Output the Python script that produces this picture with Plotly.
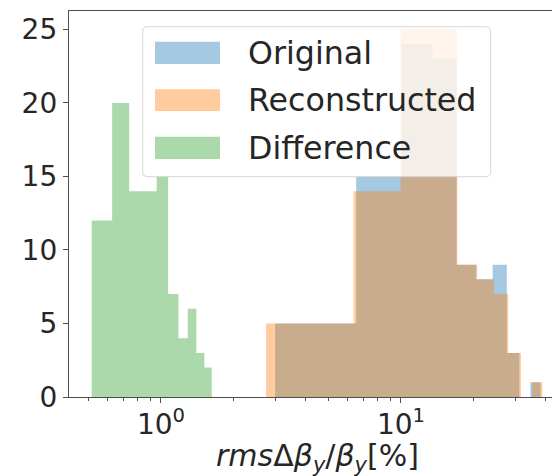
import numpy as np
import plotly.graph_objects as go

# ---- data ----
series_names = ["Original", "Reconstructed", "Difference"]
orig_counts = [5, 15, 24, 23, 9, 8, 9, 3, 0, 1]
orig_range = [2.99, 38.15]
recon_counts = [5, 14, 25, 25, 9, 8, 7, 3, 0, 1]
recon_range = [2.74, 38.8]
diff_counts = [12, 20, 14, 14, 15, 7, 4, 6, 3, 2]
diff_range = [0.5145, 1.627]
y_ticks = [0, 5, 10, 15, 20, 25]
x_major_ticks = [1, 10]
x_major_text = ["10<sup>0</sup>", "10<sup>1</sup>"]
x_minor_ticks = [0.5, 0.6, 0.7, 0.8, 0.9, 2, 3, 4, 5, 6, 7, 8, 9, 20, 30, 40]

colors = ["rgba(31,119,180,0.4)", "rgba(255,127,14,0.4)", "rgba(44,160,44,0.4)"]

W, H = 552, 476
ML, MR, MT, MB = 69, 0, 11, 79
PW, PH = W - ML - MR, H - MT - MB

fig = go.Figure()
for counts, rng, col, name in zip([orig_counts, recon_counts, diff_counts],
                                  [orig_range, recon_range, diff_range],
                                  colors, series_names):
    edges = np.linspace(rng[0], rng[1], len(counts) + 1)
    ys = list(counts) + [counts[-1]]
    fig.add_trace(go.Scatter(
        x=edges, y=ys, mode="lines", line_shape="hv",
        line=dict(width=0, color=col), fill="tozeroy", fillcolor=col,
        name=name, showlegend=False, hoverinfo="skip"))

axis_line = "#4d4d4d"
font_col = "#262626"

fig.update_layout(
    width=W, height=H,
    margin=dict(l=ML, r=MR, t=MT, b=MB, pad=0),
    paper_bgcolor="white", plot_bgcolor="white",
    font=dict(family="DejaVu Sans", color=font_col, size=28),
    showlegend=False,
)
fig.update_xaxes(
    type="log", range=[-0.3833, 1.6292],
    tickmode="array", tickvals=x_major_ticks, ticktext=x_major_text,
    ticks="outside", ticklen=5, tickwidth=1.2, tickcolor=axis_line,
    tickfont=dict(size=28, color=font_col, family="DejaVu Sans"),
    ticklabelstandoff=-3,
    minor=dict(tickmode="array", tickvals=x_minor_ticks, ticks="outside",
               ticklen=3, tickwidth=1, tickcolor=axis_line),
    showline=True, linecolor=axis_line, linewidth=1.3, mirror=True,
    showgrid=False, zeroline=False,
)
fig.update_yaxes(
    range=[0, 26.25], tickmode="array", tickvals=y_ticks,
    ticks="outside", ticklen=5, tickwidth=1.2, tickcolor=axis_line,
    tickfont=dict(size=28, color=font_col, family="DejaVu Sans"),
    showline=True, linecolor=axis_line, linewidth=1.3, mirror=False,
    showgrid=False, zeroline=False,
)

def px_x(px):
    return (px - ML) / PW

def px_y(py):
    return (H - MB - py) / PH

# legend frame (rounded box)
x0, x1 = px_x(142.7), px_x(490.7)
y1, y0 = px_y(26.7), px_y(176.7)
rx, ry = 5 / PW, 5 / PH
path = (f"M {x0+rx},{y1} L {x1-rx},{y1} Q {x1},{y1} {x1},{y1-ry} "
        f"L {x1},{y0+ry} Q {x1},{y0} {x1-rx},{y0} L {x0+rx},{y0} "
        f"Q {x0},{y0} {x0},{y0+ry} L {x0},{y1-ry} Q {x0},{y1} {x0+rx},{y1} Z")
fig.add_shape(type="path", path=path, xref="paper", yref="paper",
              fillcolor="rgba(255,255,255,0.8)",
              line=dict(color="rgba(204,204,204,0.8)", width=1), layer="above")

patch_rows = [(41.7, 64.0), (89.3, 111.0), (136.7, 159.0)]
for (top, bot), col, name in zip(patch_rows, colors, series_names):
    fig.add_shape(type="rect", xref="paper", yref="paper",
                  x0=px_x(155), x1=px_x(220), y0=px_y(bot), y1=px_y(top),
                  fillcolor=col, line=dict(width=0), layer="above")
    fig.add_annotation(x=px_x(246), y=px_y((top + bot) / 2), xref="paper", yref="paper",
                       text=name, showarrow=False, xanchor="left", yanchor="middle",
                       font=dict(size=31.7, color=font_col, family="DejaVu Sans"))

# x-axis label
fig.add_annotation(x=px_x(317), y=px_y(457), xref="paper", yref="paper",
                   text="<i>rms</i>Δ<i>β<sub>y</sub></i>/<i>β<sub>y</sub></i>[%]",
                   showarrow=False, xanchor="center", yanchor="middle",
                   font=dict(size=30, color=font_col, family="DejaVu Sans"))

fig.write_html("out.html", config={"displayModeBar": False},
               post_script="document.body.style.margin='0';document.body.style.overflow='hidden';")
